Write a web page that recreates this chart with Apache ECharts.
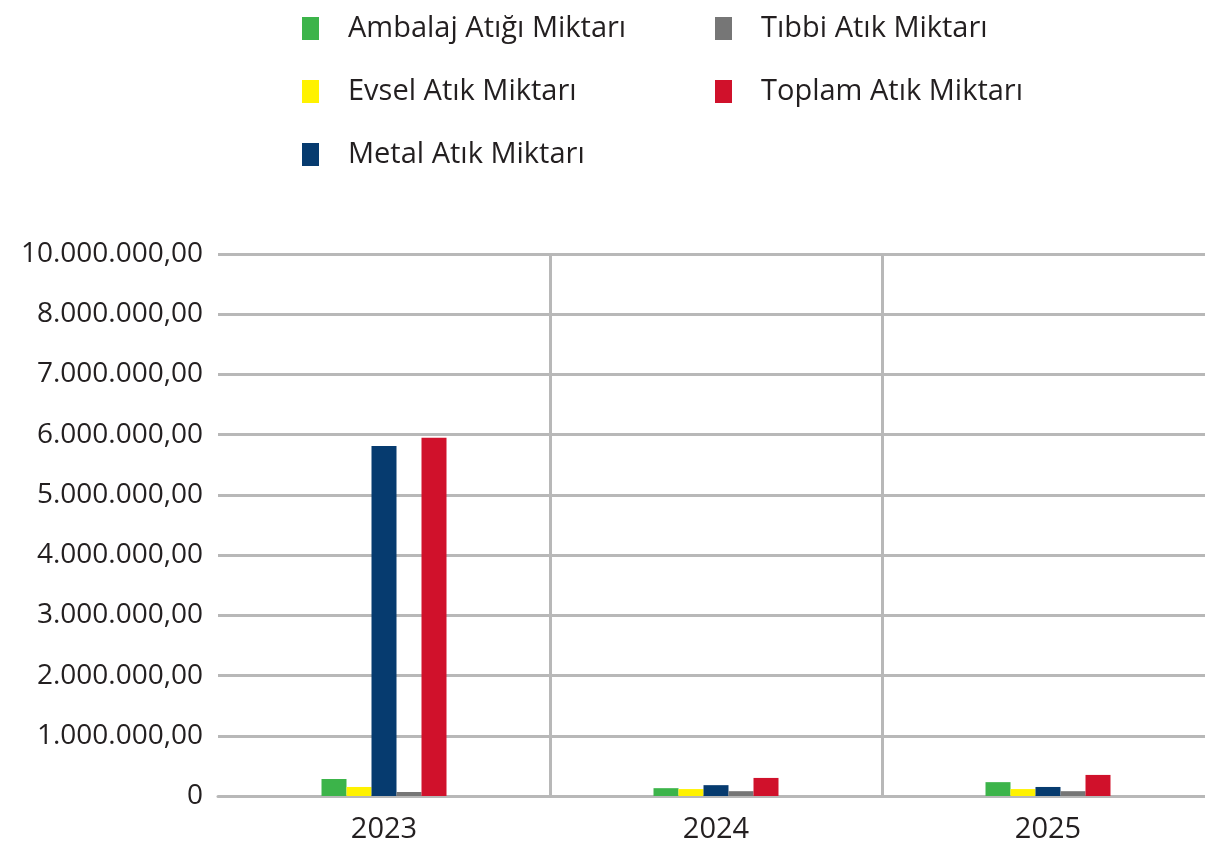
<!DOCTYPE html>
<html>
<head>
<meta charset="utf-8">
<script src="https://cdn.jsdelivr.net/npm/echarts@6/dist/echarts.min.js"></script>
<style>
  html, body { margin: 0; padding: 0; background: #fff; }
  #chart { width: 1205px; height: 850px; }
</style>
</head>
<body>
<div id="chart"></div>
<script>
var years = ['2023', '2024', '2025'];
var ambalaj = [282000, 130000, 230000];
var evsel = [150000, 115000, 115000];
var metal = [5810000, 180000, 150000];
var tibbi = [66000, 80000, 80000];
var toplam = [5950000, 300000, 350000];
// etiketler grafikteki gibi (en üstte 10.000.000,00)
var yLabels = ['0', '1.000.000,00', '2.000.000,00', '3.000.000,00', '4.000.000,00',
  '5.000.000,00', '6.000.000,00', '7.000.000,00', '8.000.000,00', '10.000.000,00'];

var gridColor = '#b8b8b8';
var font = '"Open Sans", sans-serif';

var myChart = echarts.init(document.getElementById('chart'));

function bar(name, data, color) {
  return {
    name: name,
    type: 'bar',
    data: data,
    barWidth: 25,
    barGap: '0%',
    itemStyle: { color: color }
  };
}

var legendText = {
  fontFamily: font,
  fontSize: 29,
  color: '#231f20',
  padding: [0, 0, 0, 24]
};

myChart.setOption({
  animation: false,
  legend: [{
    orient: 'vertical',
    left: 297,
    top: 9,
    icon: 'rect',
    itemWidth: 17,
    itemHeight: 23,
    itemGap: 34,
    textStyle: legendText,
    data: ['Ambalaj Atığı Miktarı', 'Evsel Atık Miktarı', 'Metal Atık Miktarı']
  }, {
    orient: 'vertical',
    left: 710,
    top: 9,
    icon: 'rect',
    itemWidth: 17,
    itemHeight: 23,
    itemGap: 34,
    textStyle: legendText,
    data: ['Tıbbi Atık Miktarı', 'Toplam Atık Miktarı']
  }],
  grid: {
    left: 218,
    width: 996,
    top: 254,
    bottom: 54,
    containLabel: false,
    outerBoundsMode: 'none'
  },
  xAxis: {
    type: 'category',
    data: years,
    axisLine: { lineStyle: { color: gridColor, width: 3 } },
    axisTick: { show: false },
    axisLabel: {
      margin: 19,
      fontFamily: font,
      fontSize: 29,
      color: '#231f20'
    },
    splitLine: {
      show: true,
      interval: function (index) { return index > 0; },
      lineStyle: { color: gridColor, width: 3 }
    }
  },
  yAxis: {
    type: 'value',
    min: 0,
    max: 9000000,
    interval: 1000000,
    axisLine: { show: false },
    axisTick: { show: false },
    splitLine: { lineStyle: { color: gridColor, width: 3 } },
    axisLabel: {
      margin: 15,
      fontFamily: font,
      fontSize: 28,
      color: '#231f20',
      formatter: function (v) { return yLabels[Math.round(v / 1000000)]; }
    }
  },
  series: [
    bar('Ambalaj Atığı Miktarı', ambalaj, '#3cb44a'),
    bar('Evsel Atık Miktarı', evsel, '#fff200'),
    bar('Metal Atık Miktarı', metal, '#063b6f'),
    bar('Tıbbi Atık Miktarı', tibbi, '#767676'),
    bar('Toplam Atık Miktarı', toplam, '#d0112b')
  ]
});
</script>
</body>
</html>
